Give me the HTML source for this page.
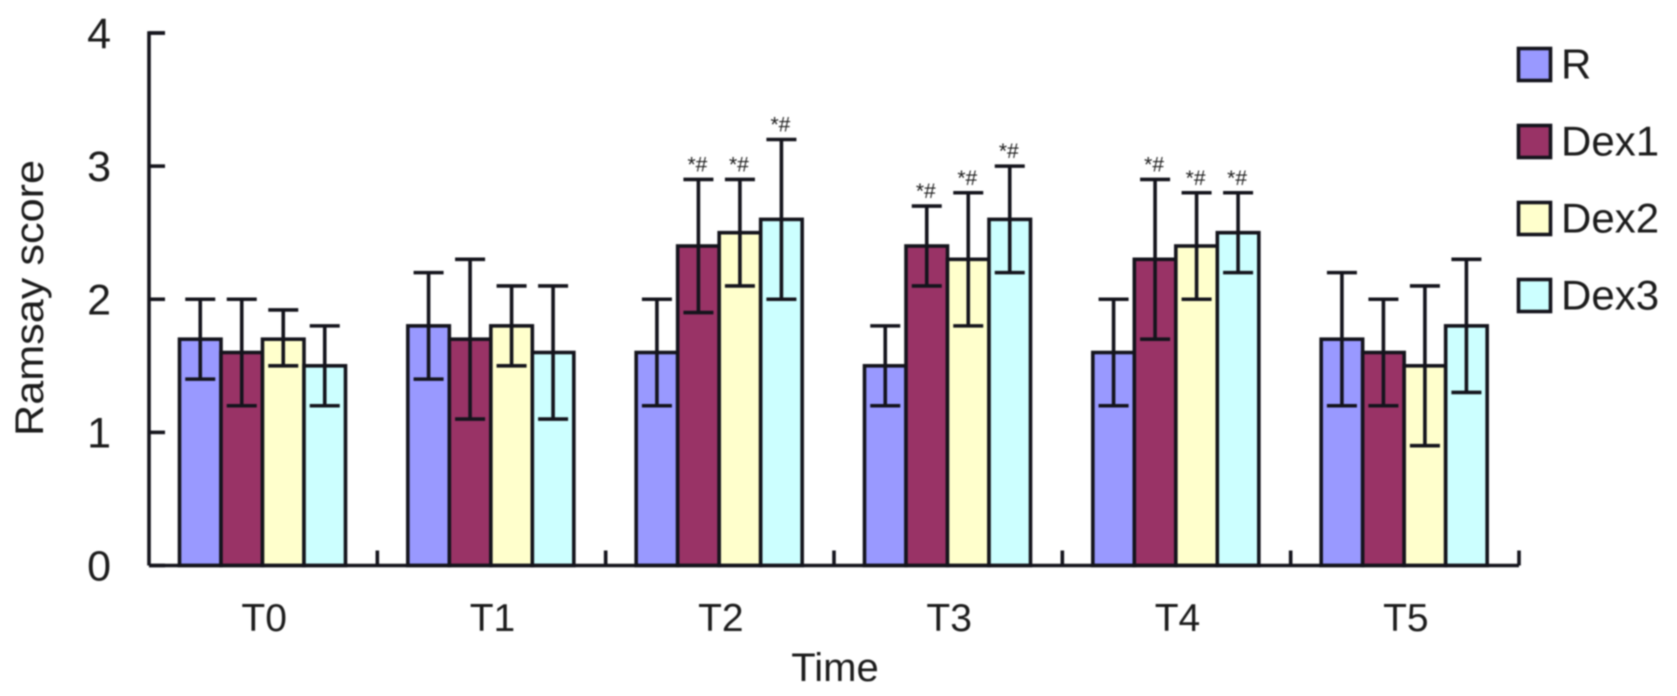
<!DOCTYPE html>
<html lang="en">
<head>
<meta charset="utf-8">
<title>Ramsay score over time</title>
<style>
html,body{margin:0;padding:0;background:#fff;width:1677px;height:696px;overflow:hidden}
svg{display:block;filter:blur(0.75px)}
text{font-family:"Liberation Sans",sans-serif;fill:#1c1c1c}
</style>
</head>
<body>
<svg id="chart" width="1677" height="696" viewBox="0 0 1677 696" xmlns="http://www.w3.org/2000/svg">
  <g id="bars"></g>
  <g id="axes"></g>
  <text transform="translate(43,298) rotate(-90)" text-anchor="middle" font-size="40" textLength="276" lengthAdjust="spacingAndGlyphs">Ramsay score</text>
  <text x="835" y="681" text-anchor="middle" font-size="40">Time</text>
  <g id="legend"></g>
</svg>
<script>
const categories = ['T0', 'T1', 'T2', 'T3', 'T4', 'T5'];
const seriesNames = ['R', 'Dex1', 'Dex2', 'Dex3'];
const seriesColors = ['#9999ff', '#993366', '#ffffcc', '#ccffff'];
const yTicks = [0, 1, 2, 3, 4];

const meanR = [1.7, 1.8, 1.6, 1.5, 1.6, 1.7];
const meanDex1 = [1.6, 1.7, 2.4, 2.4, 2.3, 1.6];
const meanDex2 = [1.7, 1.8, 2.5, 2.3, 2.4, 1.5];
const meanDex3 = [1.5, 1.6, 2.6, 2.6, 2.5, 1.8];

const upperR = [2.0, 2.2, 2.0, 1.8, 2.0, 2.2];
const upperDex1 = [2.0, 2.3, 2.9, 2.7, 2.9, 2.0];
const upperDex2 = [1.92, 2.1, 2.9, 2.8, 2.8, 2.1];
const upperDex3 = [1.8, 2.1, 3.2, 3.0, 2.8, 2.3];

const lowerR = [1.4, 1.4, 1.2, 1.2, 1.2, 1.2];
const lowerDex1 = [1.2, 1.1, 1.9, 2.1, 1.7, 1.2];
const lowerDex2 = [1.5, 1.5, 2.1, 1.8, 2.0, 0.9];
const lowerDex3 = [1.2, 1.1, 2.0, 2.2, 2.2, 1.3];

const markR = ['', '', '', '', '', ''];
const markDex1 = ['', '', '*#', '*#', '*#', ''];
const markDex2 = ['', '', '*#', '*#', '*#', ''];
const markDex3 = ['', '', '*#', '*#', '*#', ''];

const means = [meanR, meanDex1, meanDex2, meanDex3];
const uppers = [upperR, upperDex1, upperDex2, upperDex3];
const lowers = [lowerR, lowerDex1, lowerDex2, lowerDex3];
const marks = [markR, markDex1, markDex2, markDex3];

const NS = 'http://www.w3.org/2000/svg';
const plotLeft = 149, plotRight = 1519, plotBottom = 565.5, plotTop = 33;
const inkColor = '#14141c';
const lineWidth = 3.6;
const catWidth = (plotRight - plotLeft) / categories.length;
const barWidth = 41.5, groupOffset = 30.5;

function yScale(v) { return plotBottom - (v / 4) * (plotBottom - plotTop); }
function xCat(i) { return plotLeft + i * catWidth; }
function xBar(c, s) { return xCat(c) + groupOffset + s * barWidth; }

function make(tag, attrs, parent, txt) {
  const el = document.createElementNS(NS, tag);
  for (const k in attrs) el.setAttribute(k, attrs[k]);
  if (txt !== undefined) el.textContent = txt;
  parent.appendChild(el);
  return el;
}

const barsG = document.getElementById('bars');
categories.forEach(function (cat, c) {
  seriesNames.forEach(function (name, s) {
    const x = xBar(c, s);
    const top = yScale(means[s][c]);
    const rect = make('rect', {x: x, y: top, width: barWidth, height: plotBottom - top, fill: seriesColors[s], stroke: inkColor, 'stroke-width': lineWidth}, barsG);
    
    
    const cx = x + barWidth / 2;
    const hi = yScale(uppers[s][c]);
    const lo = yScale(lowers[s][c]);
    const err = make('path', {d: 'M' + (cx - 15) + ' ' + hi + 'H' + (cx + 15) + 'M' + cx + ' ' + hi + 'V' + lo + 'M' + (cx - 15) + ' ' + lo + 'H' + (cx + 15), fill: 'none', stroke: inkColor, 'stroke-width': lineWidth}, barsG);
    
    
    if (marks[s][c]) {
      const t = make('text', {x: cx - 1, y: hi - 8, 'text-anchor': 'middle', 'font-size': 21}, barsG, marks[s][c]);
      
      
    }
  });
});

const axesG = document.getElementById('axes');
const yAxisLine = make('path', {d: 'M' + (plotLeft + 16) + ' ' + plotTop + 'H' + plotLeft + 'V' + plotBottom, fill: 'none', stroke: inkColor, 'stroke-width': lineWidth}, axesG);


const xAxisLine = make('line', {x1: plotLeft, x2: plotRight, y1: plotBottom, y2: plotBottom, stroke: inkColor, 'stroke-width': lineWidth}, axesG);



yTicks.forEach(function (v) {
  const y = yScale(v);
  const tick = make('line', {x1: plotLeft, x2: plotLeft + 16, y1: y, y2: y, stroke: inkColor, 'stroke-width': lineWidth}, axesG);
  
  
  const label = make('text', {x: 111, y: y + 15, 'text-anchor': 'end', 'font-size': 43}, axesG, String(v));
  
  
});

categories.forEach(function (cat, c) {
  const tick = make('line', {x1: xCat(c + 1), x2: xCat(c + 1), y1: plotBottom, y2: plotBottom - 15, stroke: inkColor, 'stroke-width': lineWidth}, axesG);
  
  
  const label = make('text', {x: xCat(c) + catWidth / 2 + 1, y: 631, 'text-anchor': 'middle', 'font-size': 39}, axesG, cat);
  
  
});

const legendG = document.getElementById('legend');
seriesNames.forEach(function (name, s) {
  const y = 48.5 + s * 77;
  const swatch = make('rect', {x: 1518.5, y: y, width: 32, height: 32, fill: seriesColors[s], stroke: inkColor, 'stroke-width': lineWidth}, legendG);
  
  
  const label = make('text', {x: 1561, y: y + 30, 'font-size': 42}, legendG, name);
  
  
});
</script>
</body>
</html>
